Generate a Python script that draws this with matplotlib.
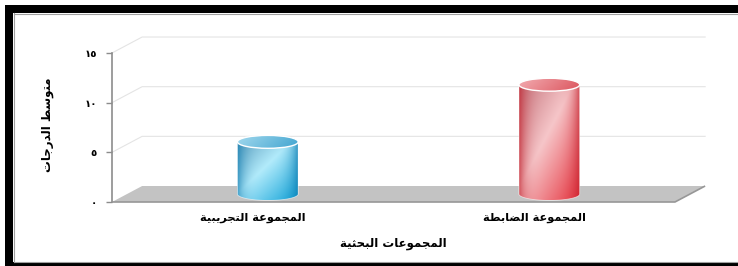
import matplotlib
matplotlib.use('Agg')
import matplotlib.pyplot as plt
import numpy as np
from matplotlib.patches import Rectangle, Polygon, PathPatch, Ellipse
from matplotlib.path import Path

# البيانات
groups = ['المجموعة التجريبية', 'المجموعة الضابطة']
means = [5.25, 11.0]
y_ticks = [0, 5, 10, 15]
y_tick_labels = ['٠', '٥', '١٠', '١٥']
x_title = 'المجموعات البحثية'
y_title = 'متوسط الدرجات'

# تدرجات الألوان لكل أسطوانة (أعلى يسار، لمعة، أسفل يمين، الحافة، الغطاء)
cyl_colors = [
    {'a': '#5f9fbf', 'hi': '#b2ebfb', 'b': '#12a3d8', 'edge': '#0d7bb0',
     'top1': '#a3d9ee', 'top2': '#42a5d0'},
    {'a': '#c4747c', 'hi': '#f6c6c9', 'b': '#e6343f', 'edge': '#c2202c',
     'top1': '#f2acb1', 'top2': '#dc555e'},
]

# عمق المنظور الثلاثي (بوحدات البيانات)
DX = 0.107
DY = 1.61
RX = 0.108
RY = 0.65


def shape_ar(text):
    # أشكال الحروف: منفصل، نهائي، بادئ، متوسط
    forms = {
        'ا': ('\uFE8D', '\uFE8E', None, None),
        'ب': ('\uFE8F', '\uFE90', '\uFE91', '\uFE92'),
        'ة': ('\uFE93', '\uFE94', None, None),
        'ت': ('\uFE95', '\uFE96', '\uFE97', '\uFE98'),
        'ث': ('\uFE99', '\uFE9A', '\uFE9B', '\uFE9C'),
        'ج': ('\uFE9D', '\uFE9E', '\uFE9F', '\uFEA0'),
        'ح': ('\uFEA1', '\uFEA2', '\uFEA3', '\uFEA4'),
        'د': ('\uFEA9', '\uFEAA', None, None),
        'ر': ('\uFEAD', '\uFEAE', None, None),
        'س': ('\uFEB1', '\uFEB2', '\uFEB3', '\uFEB4'),
        'ض': ('\uFEBD', '\uFEBE', '\uFEBF', '\uFEC0'),
        'ط': ('\uFEC1', '\uFEC2', '\uFEC3', '\uFEC4'),
        'ع': ('\uFEC9', '\uFECA', '\uFECB', '\uFECC'),
        'ل': ('\uFEDD', '\uFEDE', '\uFEDF', '\uFEE0'),
        'م': ('\uFEE1', '\uFEE2', '\uFEE3', '\uFEE4'),
        'و': ('\uFEED', '\uFEEE', None, None),
        'ي': ('\uFEF1', '\uFEF2', '\uFEF3', '\uFEF4'),
    }
    out = []
    for i, ch in enumerate(text):
        if ch not in forms:
            out.append(ch)
            continue
        prev = text[i - 1] if i > 0 else ''
        nxt = text[i + 1] if i + 1 < len(text) else ''
        j_prev = prev in forms and forms[prev][2] is not None
        j_next = forms[ch][2] is not None and nxt in forms
        if j_prev and j_next:
            out.append(forms[ch][3])
        elif j_prev:
            out.append(forms[ch][1])
        elif j_next:
            out.append(forms[ch][2])
        else:
            out.append(forms[ch][0])
    return ''.join(out[::-1])


def hex2rgb(h):
    return np.array([int(h[i:i + 2], 16) for i in (1, 3, 5)]) / 255.0


def body_image(c, n=120, m=240):
    # تدرج قطري مع تظليل أسطواني على الحواف
    xs = np.linspace(0, 1, n)
    ys = np.linspace(0, 1, m)
    X, Y = np.meshgrid(xs, ys)
    s = np.clip(X * 0.6 + Y * 0.6, 0, 1.2) / 1.2
    a, hi, b = hex2rgb(c['a']), hex2rgb(c['hi']), hex2rgb(c['b'])
    w1 = np.clip(s / 0.45, 0, 1)[..., None]
    w2 = np.clip((s - 0.45) / 0.55, 0, 1)[..., None]
    img = np.where(s[..., None] < 0.45, a + (hi - a) * w1, hi + (b - hi) * w2)
    u = np.abs(X * 2 - 1)[..., None]
    edge = hex2rgb(c['edge'])
    k = u ** 4 * 0.7
    img = img * (1 - k) + edge * k
    return np.clip(img, 0, 1)


def top_image(c, n=120):
    xs = np.linspace(0, 1, n)
    X, Y = np.meshgrid(xs, np.linspace(0, 1, 20))
    t1, t2 = hex2rgb(c['top1']), hex2rgb(c['top2'])
    w = (X * 0.8 + Y * 0.2)[..., None]
    return t1 + (t2 - t1) * w


fig = plt.figure(figsize=(7.38, 2.66), dpi=100)
W, H = 738.0, 266.0

# الإطار الأسود
fig.add_artist(Rectangle((5 / W, 0), 8 / W, 261 / H, transform=fig.transFigure,
                         facecolor='black', edgecolor='none'))
fig.add_artist(Rectangle((5 / W, 253 / H), 733 / W, 8 / H, transform=fig.transFigure,
                         facecolor='black', edgecolor='none'))
fig.add_artist(Rectangle((5 / W, 0), 733 / W, 4 / H, transform=fig.transFigure,
                         facecolor='black', edgecolor='none'))
fig.add_artist(plt.Line2D([13.5 / W, 13.5 / W], [4 / H, 253 / H], transform=fig.transFigure,
                          color='#a0a0a0', lw=0.8))
fig.add_artist(plt.Line2D([13.5 / W, 1], [252.5 / H, 252.5 / H], transform=fig.transFigure,
                          color='#a0a0a0', lw=0.8))
fig.add_artist(plt.Line2D([13.5 / W, 1], [4.5 / H, 4.5 / H], transform=fig.transFigure,
                          color='#a0a0a0', lw=0.8))

ax = fig.add_axes([112 / W, 64 / H, 563 / W, 149 / H])
x = np.arange(len(groups))

# خطوط الشبكة على الجدار الخلفي
for v in y_ticks[1:]:
    ax.plot([-0.5, -0.5 + DX, 1.5 + DX], [v, v + DY, v + DY], color='#e4e4e4',
            lw=0.8, clip_on=False, zorder=1)

# الأرضية
floor = Polygon([(-0.5, 0), (1.5, 0), (1.5 + DX, DY), (-0.5 + DX, DY)], closed=True,
                facecolor='#c3c3c3', edgecolor='none', clip_on=False, zorder=2)
ax.add_patch(floor)
ax.plot([-0.5, 1.5, 1.5 + DX], [0, 0, DY], color='#979797', lw=1.2,
        clip_on=False, zorder=3, solid_capstyle='butt')

# الأسطوانات
for i, (xi, v) in enumerate(zip(x, means)):
    c = cyl_colors[i]
    cx = xi + DX / 2
    yb = DY / 2
    yt = v + DY / 2
    th = np.linspace(np.pi, 2 * np.pi, 60)
    pts = [(cx - RX, yt)] + list(zip(cx + RX * np.cos(th), yb + RY * np.sin(th))) + [(cx + RX, yt)]
    body = PathPatch(Path(pts + [pts[0]], closed=True), transform=ax.transData,
                     facecolor='none', edgecolor='none')
    im = ax.imshow(body_image(c), extent=(cx - RX, cx + RX, yb - RY, yt), aspect='auto',
                   origin='upper', zorder=4, interpolation='bilinear')
    im.set_clip_path(body)
    ax.add_patch(PathPatch(Path(pts), transform=ax.transData, facecolor='none',
                           edgecolor='white', lw=0.6, alpha=0.6, zorder=5))
    cap = Ellipse((cx, yt), 2 * RX, 2 * RY, transform=ax.transData,
                  facecolor='none', edgecolor='none')
    im2 = ax.imshow(top_image(c), extent=(cx - RX, cx + RX, yt - RY, yt + RY), aspect='auto',
                    origin='upper', zorder=6, interpolation='bilinear')
    im2.set_clip_path(cap)
    ax.add_patch(Ellipse((cx, yt), 2 * RX, 2 * RY, facecolor='none', edgecolor='white',
                         lw=1.0, zorder=7))

ax.set_xlim(-0.5, 1.5)
ax.set_ylim(0, 15)
ax.set_facecolor('none')
for side in ['top', 'right', 'bottom']:
    ax.spines[side].set_visible(False)
ax.spines['left'].set_color('#8c8c8c')
ax.spines['left'].set_linewidth(1.2)
ax.set_yticks(y_ticks)
ax.set_yticklabels(y_tick_labels, fontsize=7.5, fontweight='bold')
ax.tick_params(axis='y', length=4, width=1, color='#8c8c8c', pad=7)
ax.set_xticks(x)
ax.set_xticklabels([shape_ar(g) for g in groups], fontsize=8.2, fontweight='bold')
ax.tick_params(axis='x', length=0, pad=8)

fig.text(393 / W, 23 / H, shape_ar(x_title), ha='center', va='center',
         fontsize=8.5, fontweight='bold')
fig.text(47 / W, 141 / H, shape_ar(y_title), ha='center', va='center', rotation=90,
         fontsize=8.5, fontweight='bold')

fig.savefig('out.png', dpi=100)
